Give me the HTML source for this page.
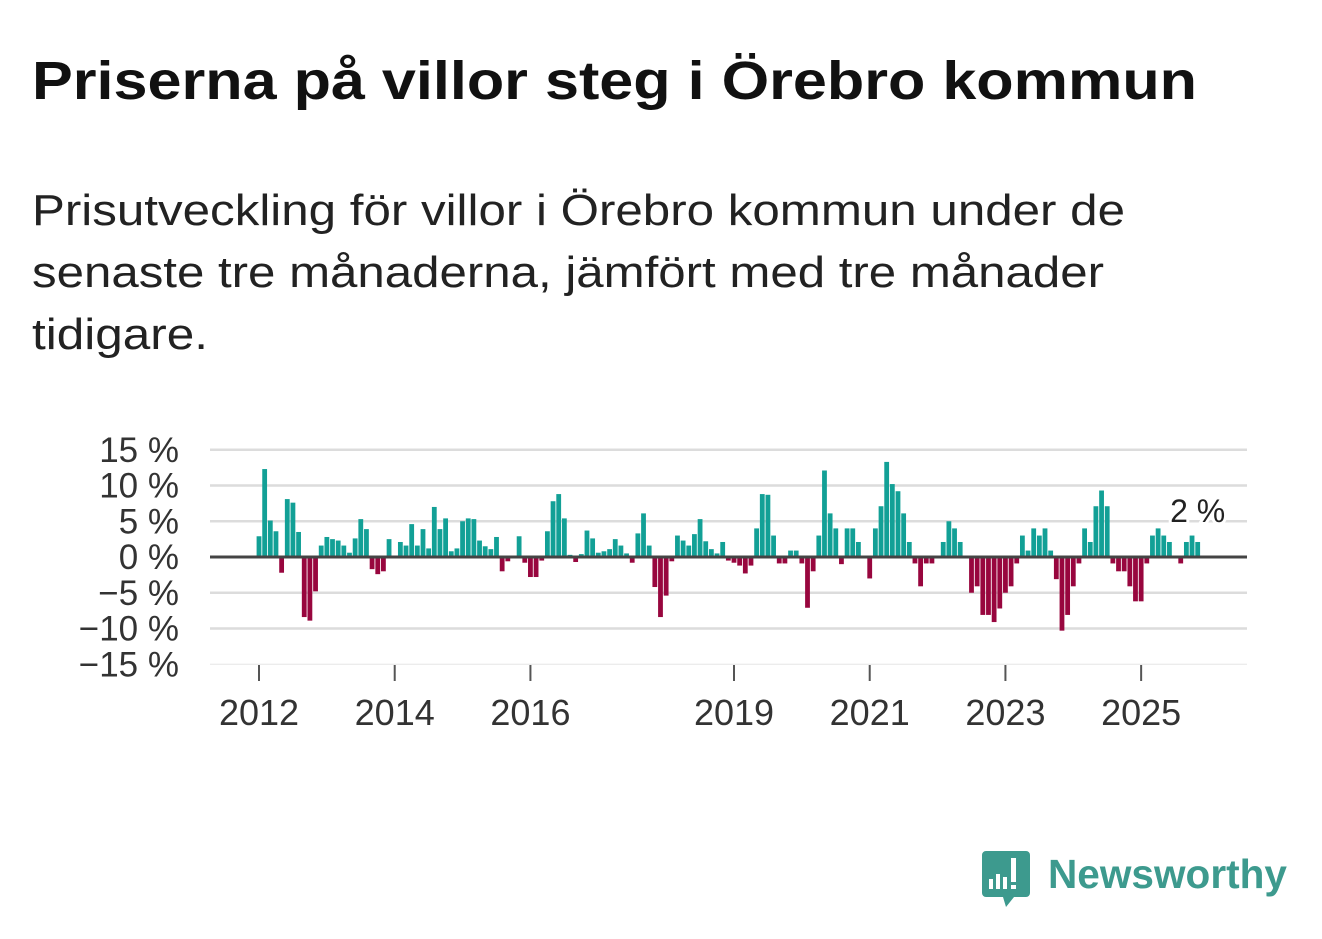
<!DOCTYPE html>
<html><head><meta charset="utf-8"><style>
html,body{margin:0;padding:0;background:#fff;width:1322px;height:939px;overflow:hidden}
svg{display:block;font-family:"Liberation Sans",sans-serif}
</style></head><body>
<svg id="chart" width="1322" height="939">
<text x="32" y="99" font-size="54" font-weight="bold" fill="#111" textLength="1165" lengthAdjust="spacingAndGlyphs">Priserna på villor steg i Örebro kommun</text>
<g font-size="44" fill="#222">
<text x="32" y="225" textLength="1093" lengthAdjust="spacingAndGlyphs">Prisutveckling för villor i Örebro kommun under de</text>
<text x="32" y="287" textLength="1072" lengthAdjust="spacingAndGlyphs">senaste tre månaderna, jämfört med tre månader</text>
<text x="32" y="349" textLength="176" lengthAdjust="spacingAndGlyphs">tidigare.</text>
</g>
<g id="grid"></g>
<g id="bars"></g>
<g id="axes"></g>
<g>
<path d="M986 851h40a4 4 0 0 1 4 4v38a4 4 0 0 1-4 4h-12l-8 10l-3-10h-17a4 4 0 0 1-4-4v-38a4 4 0 0 1 4-4z" fill="#3d9a8e"/>
<rect x="989" y="879" width="4" height="10" fill="#fff"/><rect x="996" y="874" width="4" height="15" fill="#fff"/><rect x="1003" y="877" width="4" height="12" fill="#fff"/><rect x="1011" y="858" width="5" height="24" fill="#fff"/><rect x="1011" y="885" width="5" height="4" fill="#fff"/>
<text x="1048" y="888" font-size="41" font-weight="bold" fill="#3d9a8e" textLength="239" lengthAdjust="spacingAndGlyphs">Newsworthy</text>
</g>
</svg>
<script>
const values=[2.9,12.3,5.1,3.6,-2.2,8.1,7.6,3.5,-8.4,-8.9,-4.8,1.6,2.8,2.5,2.3,1.6,0.6,2.6,5.3,3.9,-1.7,-2.4,-2.0,2.5,0,2.1,1.6,4.6,1.6,3.9,1.2,7.0,3.9,5.4,0.8,1.2,5.0,5.4,5.3,2.3,1.5,1.1,2.8,-2.0,-0.6,0,2.9,-0.8,-2.8,-2.8,-0.5,3.6,7.8,8.8,5.4,0.3,-0.7,0.4,3.7,2.6,0.6,0.8,1.1,2.5,1.6,0.5,-0.8,3.3,6.1,1.6,-4.2,-8.4,-5.4,-0.6,3.0,2.3,1.6,3.2,5.3,2.2,1.1,0.5,2.1,-0.5,-0.8,-1.2,-2.3,-1.2,4.0,8.8,8.7,3.0,-0.9,-0.9,0.9,0.9,-0.9,-7.1,-2.0,3.0,12.1,6.1,4.0,-1.0,4.0,4.0,2.1,0,-3.0,4.0,7.1,13.3,10.2,9.2,6.1,2.1,-0.9,-4.1,-0.9,-0.9,0,2.1,5.0,4.0,2.1,0,-5.0,-4.1,-8.1,-8.1,-9.1,-7.2,-5.0,-4.1,-0.9,3.0,0.9,4.0,3.0,4.0,0.9,-3.1,-10.3,-8.1,-4.1,-0.9,4.0,2.1,7.1,9.3,7.1,-0.9,-2.0,-2.0,-4.1,-6.2,-6.2,-0.9,3.0,4.0,3.0,2.1,0,-0.9,2.1,3.0,2.1];
const yTicks=[15,10,5,0,-5,-10,-15];
const yTickLabels=["15 %","10 %","5 %","0 %","−5 %","−10 %","−15 %"];
const xTickYears=[2012,2014,2016,2019,2021,2023,2025];
const lastLabel="2 %";
const NS="http://www.w3.org/2000/svg";
const x0=210,x1=1247,startYear=2012,firstX=259,monthW=(734-259)/84;
const yS=v=>557-v*7.15;
const xM=i=>firstX+i*monthW;
const xY=y=>firstX+(y-startYear)*12*monthW;
function mk(t,a,p){const e=document.createElementNS(NS,t);for(const k in a)e.setAttribute(k,a[k]);p.appendChild(e);return e;}
const grid=document.getElementById('grid'),bars=document.getElementById('bars'),axes=document.getElementById('axes');
yTicks.forEach((v,i)=>{
 if(v!==0){const l=mk('line',{x1:x0,x2:x1,y1:yS(v),y2:yS(v),stroke:v===-15?'#e6e6e6':'#dcdcdc','stroke-width':v===-15?1:2.5},grid);
 
 }
 const t=mk('text',{x:179,y:yS(v)+12,'text-anchor':'end','font-size':35,fill:'#333'},axes);
 t.textContent=yTickLabels[i];
 
 
});
values.forEach((v,i)=>{
 const y=v>=0?yS(v):yS(0),h=Math.abs(yS(v)-yS(0));
 const r=mk('rect',{x:xM(i)-2.4,y:y,width:4.8,height:h,fill:v>=0?'#12a096':'#98063e'},bars);
 
 
});
const z=mk('line',{x1:x0,x2:x1,y1:yS(0),y2:yS(0),stroke:'#444','stroke-width':3},axes);


xTickYears.forEach(yr=>{
 const x=xY(yr);
 const tk=mk('line',{x1:x,x2:x,y1:665,y2:681,stroke:'#555','stroke-width':2},axes);
 
 
 const t=mk('text',{x:x,y:725,'text-anchor':'middle','font-size':36,fill:'#333'},axes);
 t.textContent=yr;
 
 
});
const li=values.length-1;
const lb=mk('text',{x:xM(li),y:522,'text-anchor':'middle','font-size':32,fill:'#222',stroke:'#fff','stroke-width':6,'paint-order':'stroke'},axes);
lb.textContent=lastLabel;


</script>
</body></html>
